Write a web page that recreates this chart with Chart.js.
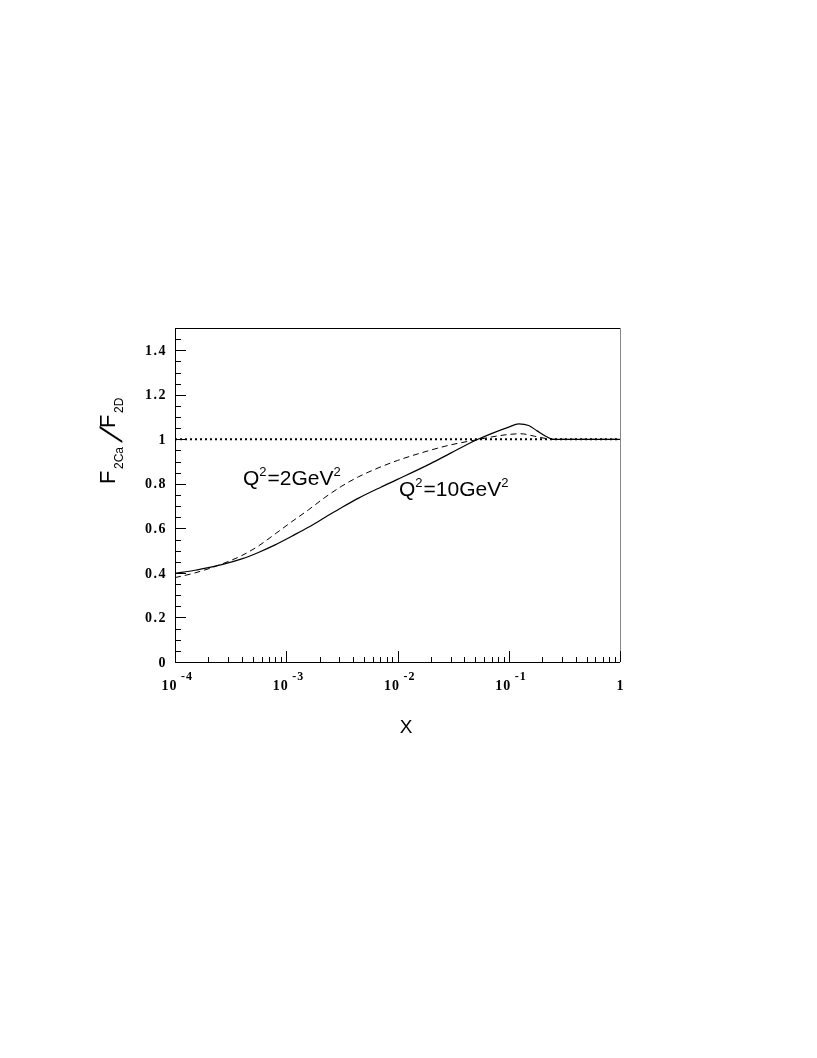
<!DOCTYPE html>
<html>
<head>
<meta charset="utf-8">
<script src="https://cdn.jsdelivr.net/npm/chart.js@4.4.1/dist/chart.umd.min.js"></script>
<style>
html,body{margin:0;padding:0;background:#fff;}
#wrap{width:817px;height:1058px;position:relative;}
</style>
</head>
<body>
<div id="wrap"><canvas id="c" width="817" height="1058"></canvas></div>
<script>
// Q^2 = 10 GeV^2 (solid)
const xQ10 = [1e-4, 1.51e-4, 2.0e-4, 2.63e-4, 3.98e-4, 5.62e-4, 7.94e-4, 1.12e-3, 1.58e-3, 2.24e-3, 3.16e-3, 4.47e-3, 7.08e-3, 0.01, 0.02, 0.03, 0.05, 0.0708, 0.1, 0.123, 0.151, 0.18, 0.219, 0.251, 0.398, 1];
const yQ10 = [0.398, 0.412, 0.424, 0.437, 0.463, 0.492, 0.526, 0.565, 0.605, 0.65, 0.694, 0.736, 0.785, 0.82, 0.892, 0.938, 0.995, 1.027, 1.055, 1.069, 1.062, 1.038, 1.012, 1.0, 1.0, 1.0];
// Q^2 = 2 GeV^2 (dashed)
const xQ2 = [1e-4, 1.51e-4, 2.45e-4, 3.98e-4, 5.62e-4, 7.94e-4, 1.12e-3, 1.58e-3, 2.24e-3, 3.16e-3, 4.47e-3, 6.31e-3, 0.01, 0.02, 0.03, 0.05, 0.0708, 0.1, 0.129, 0.17, 0.219, 0.251, 0.398, 1];
const yQ2 = [0.379, 0.4, 0.434, 0.478, 0.521, 0.575, 0.63, 0.683, 0.74, 0.79, 0.832, 0.866, 0.905, 0.952, 0.975, 0.997, 1.011, 1.022, 1.025, 1.014, 1.003, 1.0, 1.0, 1.0];
// reference line
const xRef = [1e-4, 1];
const yRef = [1, 1];
// axis ticks
const yMajorTicks = [0, 0.2, 0.4, 0.6, 0.8, 1, 1.2, 1.4];
const yTickLabels = ['0', '0.2', '0.4', '0.6', '0.8', '1', '1.2', '1.4'];
const xDecades = [1e-4, 1e-3, 1e-2, 1e-1, 1];
const xDecadeExp = ['-4', '-3', '-2', '-1', ''];
const xMinorMult = [2, 3, 4, 5, 6, 7, 8, 9];

const pts = (xs, ys) => xs.map((x, i) => ({x: x, y: ys[i]}));

const decor = {
  id: 'decor',
  afterDraw(chart) {
    const ctx = chart.ctx;
    const xs = chart.scales.x, ys = chart.scales.y;
    const a = chart.chartArea;
    ctx.save();
    // frame
    ctx.lineWidth = 1;
    ctx.strokeStyle = '#000';
    ctx.beginPath();
    ctx.moveTo(a.left + 0.5, a.top + 0.5);
    ctx.lineTo(a.left + 0.5, a.bottom + 0.5);
    ctx.lineTo(a.right, a.bottom + 0.5);
    ctx.moveTo(a.left, a.top + 0.5);
    ctx.lineTo(a.right, a.top + 0.5);
    ctx.stroke();
    ctx.strokeStyle = '#888';
    ctx.beginPath();
    ctx.moveTo(a.right + 0.5, a.top);
    ctx.lineTo(a.right + 0.5, a.bottom);
    ctx.stroke();
    // y ticks
    ctx.strokeStyle = '#000';
    ctx.beginPath();
    for (let k = 0; k <= 30; k++) {
      const v = k * 0.05;
      const py = Math.round(ys.getPixelForValue(v)) + 0.5;
      const major = (k % 4 === 0);
      ctx.moveTo(a.left, py);
      ctx.lineTo(a.left + (major ? 11 : 6), py);
    }
    // x ticks
    for (let d = 0; d < xDecades.length; d++) {
      const px = Math.round(xs.getPixelForValue(xDecades[d])) + 0.5;
      ctx.moveTo(px, a.bottom);
      ctx.lineTo(px, a.bottom - 11);
      if (d < xDecades.length - 1) {
        for (const m of xMinorMult) {
          const qx = Math.round(xs.getPixelForValue(xDecades[d] * m)) + 0.5;
          ctx.moveTo(qx, a.bottom);
          ctx.lineTo(qx, a.bottom - 5);
        }
      }
    }
    ctx.stroke();
    // y tick labels
    ctx.fillStyle = '#000';
    ctx.font = 'bold 14px "Liberation Serif", "Times New Roman", serif';
    ctx.letterSpacing = '1.5px';
    ctx.textAlign = 'right';
    ctx.textBaseline = 'middle';
    yMajorTicks.forEach((v, i) => {
      ctx.fillText(yTickLabels[i], 167, ys.getPixelForValue(v) + 1);
    });
    // x tick labels
    ctx.textBaseline = 'alphabetic';
    xDecades.forEach((v, i) => {
      const px = xs.getPixelForValue(v);
      if (xDecadeExp[i] === '') {
        ctx.font = 'bold 14px "Liberation Serif", serif';
        ctx.letterSpacing = '0px';
        ctx.textAlign = 'center';
        ctx.fillText('1', px, 690);
      } else {
        ctx.font = 'bold 14px "Liberation Serif", serif';
        ctx.letterSpacing = '1px';
        ctx.textAlign = 'right';
        ctx.fillText('10', px + 2.5, 690);
        ctx.font = 'bold 12px "Liberation Serif", serif';
        ctx.letterSpacing = '1px';
        ctx.textAlign = 'left';
        ctx.fillText(xDecadeExp[i], px + 6, 680);
      }
    });
    ctx.letterSpacing = '0px';
    // x title
    ctx.font = '19px "Liberation Sans", Arial, sans-serif';
    ctx.textAlign = 'center';
    ctx.fillText('X', 406, 733);
    // curve labels
    const qlabel = (x, y, num) => {
      ctx.textAlign = 'left';
      let cx = x;
      ctx.font = '21px "Liberation Sans", Arial, sans-serif';
      ctx.fillText('Q', cx, y); cx += ctx.measureText('Q').width;
      ctx.font = '13px "Liberation Sans", Arial, sans-serif';
      ctx.fillText('2', cx, y - 9); cx += ctx.measureText('2').width + 1;
      ctx.font = '21px "Liberation Sans", Arial, sans-serif';
      const mid = '=' + num + 'GeV';
      ctx.fillText(mid, cx, y); cx += ctx.measureText(mid).width;
      ctx.font = '13px "Liberation Sans", Arial, sans-serif';
      ctx.fillText('2', cx, y - 9);
    };
    qlabel(243, 485, '2');
    qlabel(399, 496, '10');
    // y title (rotated)
    ctx.translate(115, 484);
    ctx.rotate(-Math.PI / 2);
    ctx.textAlign = 'left';
    ctx.font = '22px "Liberation Sans", Arial, sans-serif';
    ctx.fillText('F', 0, 0);
    ctx.font = '12px "Liberation Sans", Arial, sans-serif';
    ctx.fillText('2Ca', 15, 8);
    ctx.save();
    ctx.translate(41, 7);
    ctx.transform(1, 0, -0.38, 1, 0, 0);
    ctx.font = '31px "Liberation Sans", Arial, sans-serif';
    ctx.fillText('/', 0, 0);
    ctx.restore();
    ctx.font = '22px "Liberation Sans", Arial, sans-serif';
    ctx.fillText('F', 56, 0);
    ctx.font = '12px "Liberation Sans", Arial, sans-serif';
    ctx.fillText('2D', 71, 8);
    ctx.restore();
  }
};

new Chart(document.getElementById('c'), {
  type: 'scatter',
  data: {
    datasets: [
      {label: 'Q2=10', data: pts(xQ10, yQ10), showLine: true, borderColor: '#000', borderWidth: 1.2, pointRadius: 0, cubicInterpolationMode: 'monotone', fill: false},
      {label: 'Q2=2', data: pts(xQ2, yQ2), showLine: true, borderColor: '#000', borderWidth: 1, borderDash: [6, 4], pointRadius: 0, cubicInterpolationMode: 'monotone', fill: false},
      {label: 'ref', data: pts(xRef, yRef), showLine: true, borderColor: '#000', borderWidth: 2, borderDash: [2, 3], pointRadius: 0, fill: false}
    ]
  },
  options: {
    responsive: false,
    animation: false,
    devicePixelRatio: 1,
    layout: {padding: {left: 175, top: 328, right: 197, bottom: 396}},
    plugins: {legend: {display: false}, tooltip: {enabled: false}},
    scales: {
      x: {type: 'logarithmic', min: 1e-4, max: 1, display: false},
      y: {type: 'linear', min: 0, max: 1.5, display: false}
    }
  },
  plugins: [decor]
});
</script>
</body>
</html>
